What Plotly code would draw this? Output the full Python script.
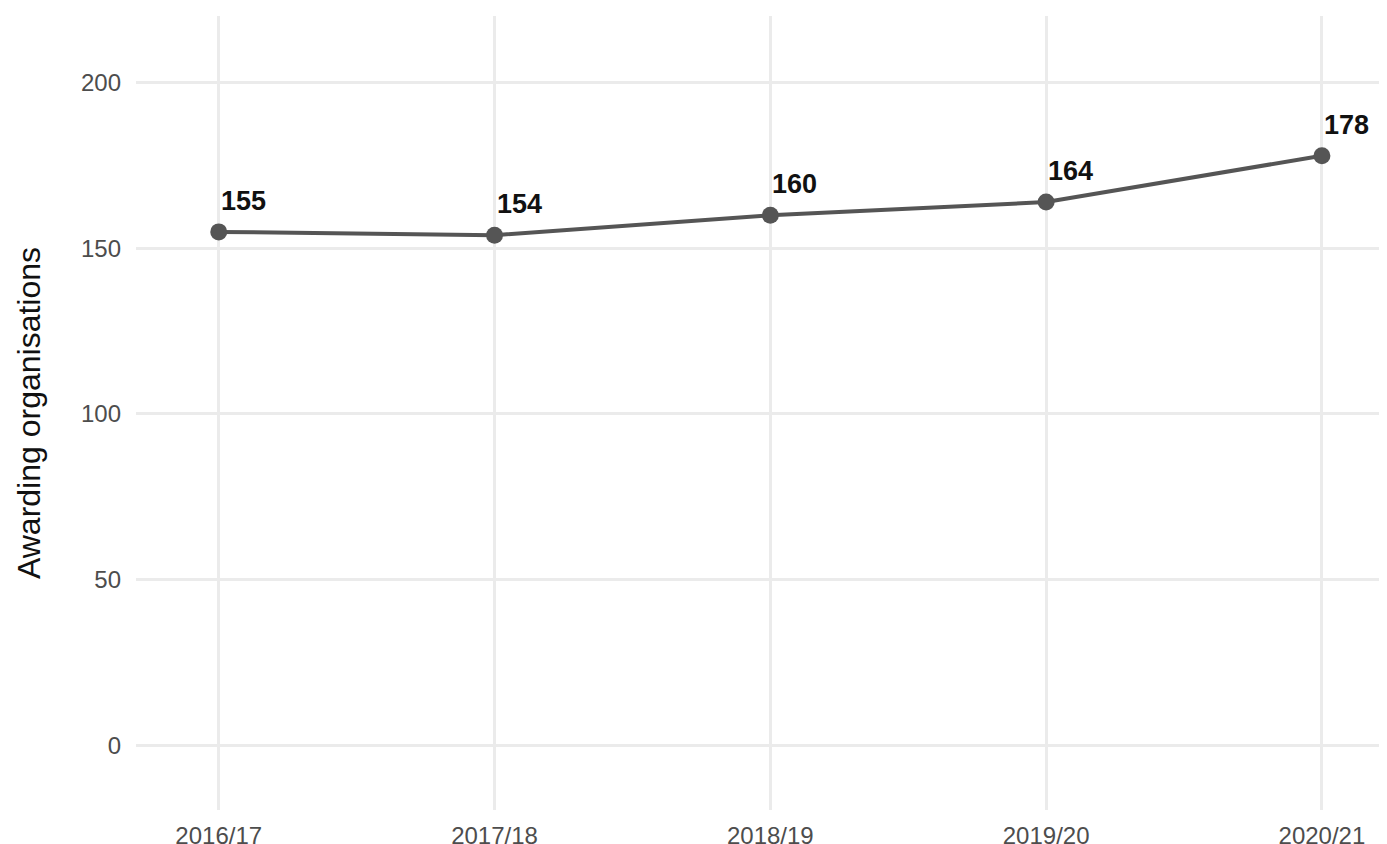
import plotly.graph_objects as go

years = ["2016/17", "2017/18", "2018/19", "2019/20", "2020/21"]
orgs = [155, 154, 160, 164, 178]
y_ticks = [0, 50, 100, 150, 200]

FONT = "Liberation Sans, Arial, Helvetica, sans-serif"

fig = go.Figure()
fig.add_trace(go.Scatter(
    x=list(range(len(years))), y=orgs, mode="lines+markers",
    line=dict(color="#555555", width=4),
    marker=dict(color="#555555", size=17),
    hoverinfo="skip", showlegend=False, cliponaxis=False,
))
for i, v in enumerate(orgs):
    fig.add_annotation(x=i, y=v, text=f"<b>{v}</b>", showarrow=False,
                       xanchor="left", yanchor="middle", xshift=0, yshift=31,
                       font=dict(family=FONT, size=27, color="#111111"))

# the page body has an 8px default margin, so the figure is sized and placed to compensate
fig.update_layout(
    width=1379, height=836,
    margin=dict(l=128, r=0, t=8, b=34),
    paper_bgcolor="white", plot_bgcolor="white",
    font=dict(family=FONT, color="#4d4d4d"),
)
fig.update_xaxes(
    range=[-0.3, 4.236], tickmode="array", tickvals=list(range(len(years))), ticktext=years,
    showgrid=True, gridcolor="#ebebeb", gridwidth=2.5, zeroline=False, showline=False,
    ticks="", tickfont=dict(size=24, color="#4d4d4d"), ticklabelstandoff=9,
    automargin=False,
)
fig.update_yaxes(
    range=[-19.6, 220.2], tickmode="array", tickvals=y_ticks,
    showgrid=True, gridcolor="#ebebeb", gridwidth=2.5, zeroline=False, showline=False,
    ticks="", tickfont=dict(size=24, color="#4d4d4d"), ticklabelstandoff=14,
    automargin=False,
    title=dict(text="Awarding organisations", font=dict(size=32, color="#111111"), standoff=30),
)
fig.write_html("out.html")
